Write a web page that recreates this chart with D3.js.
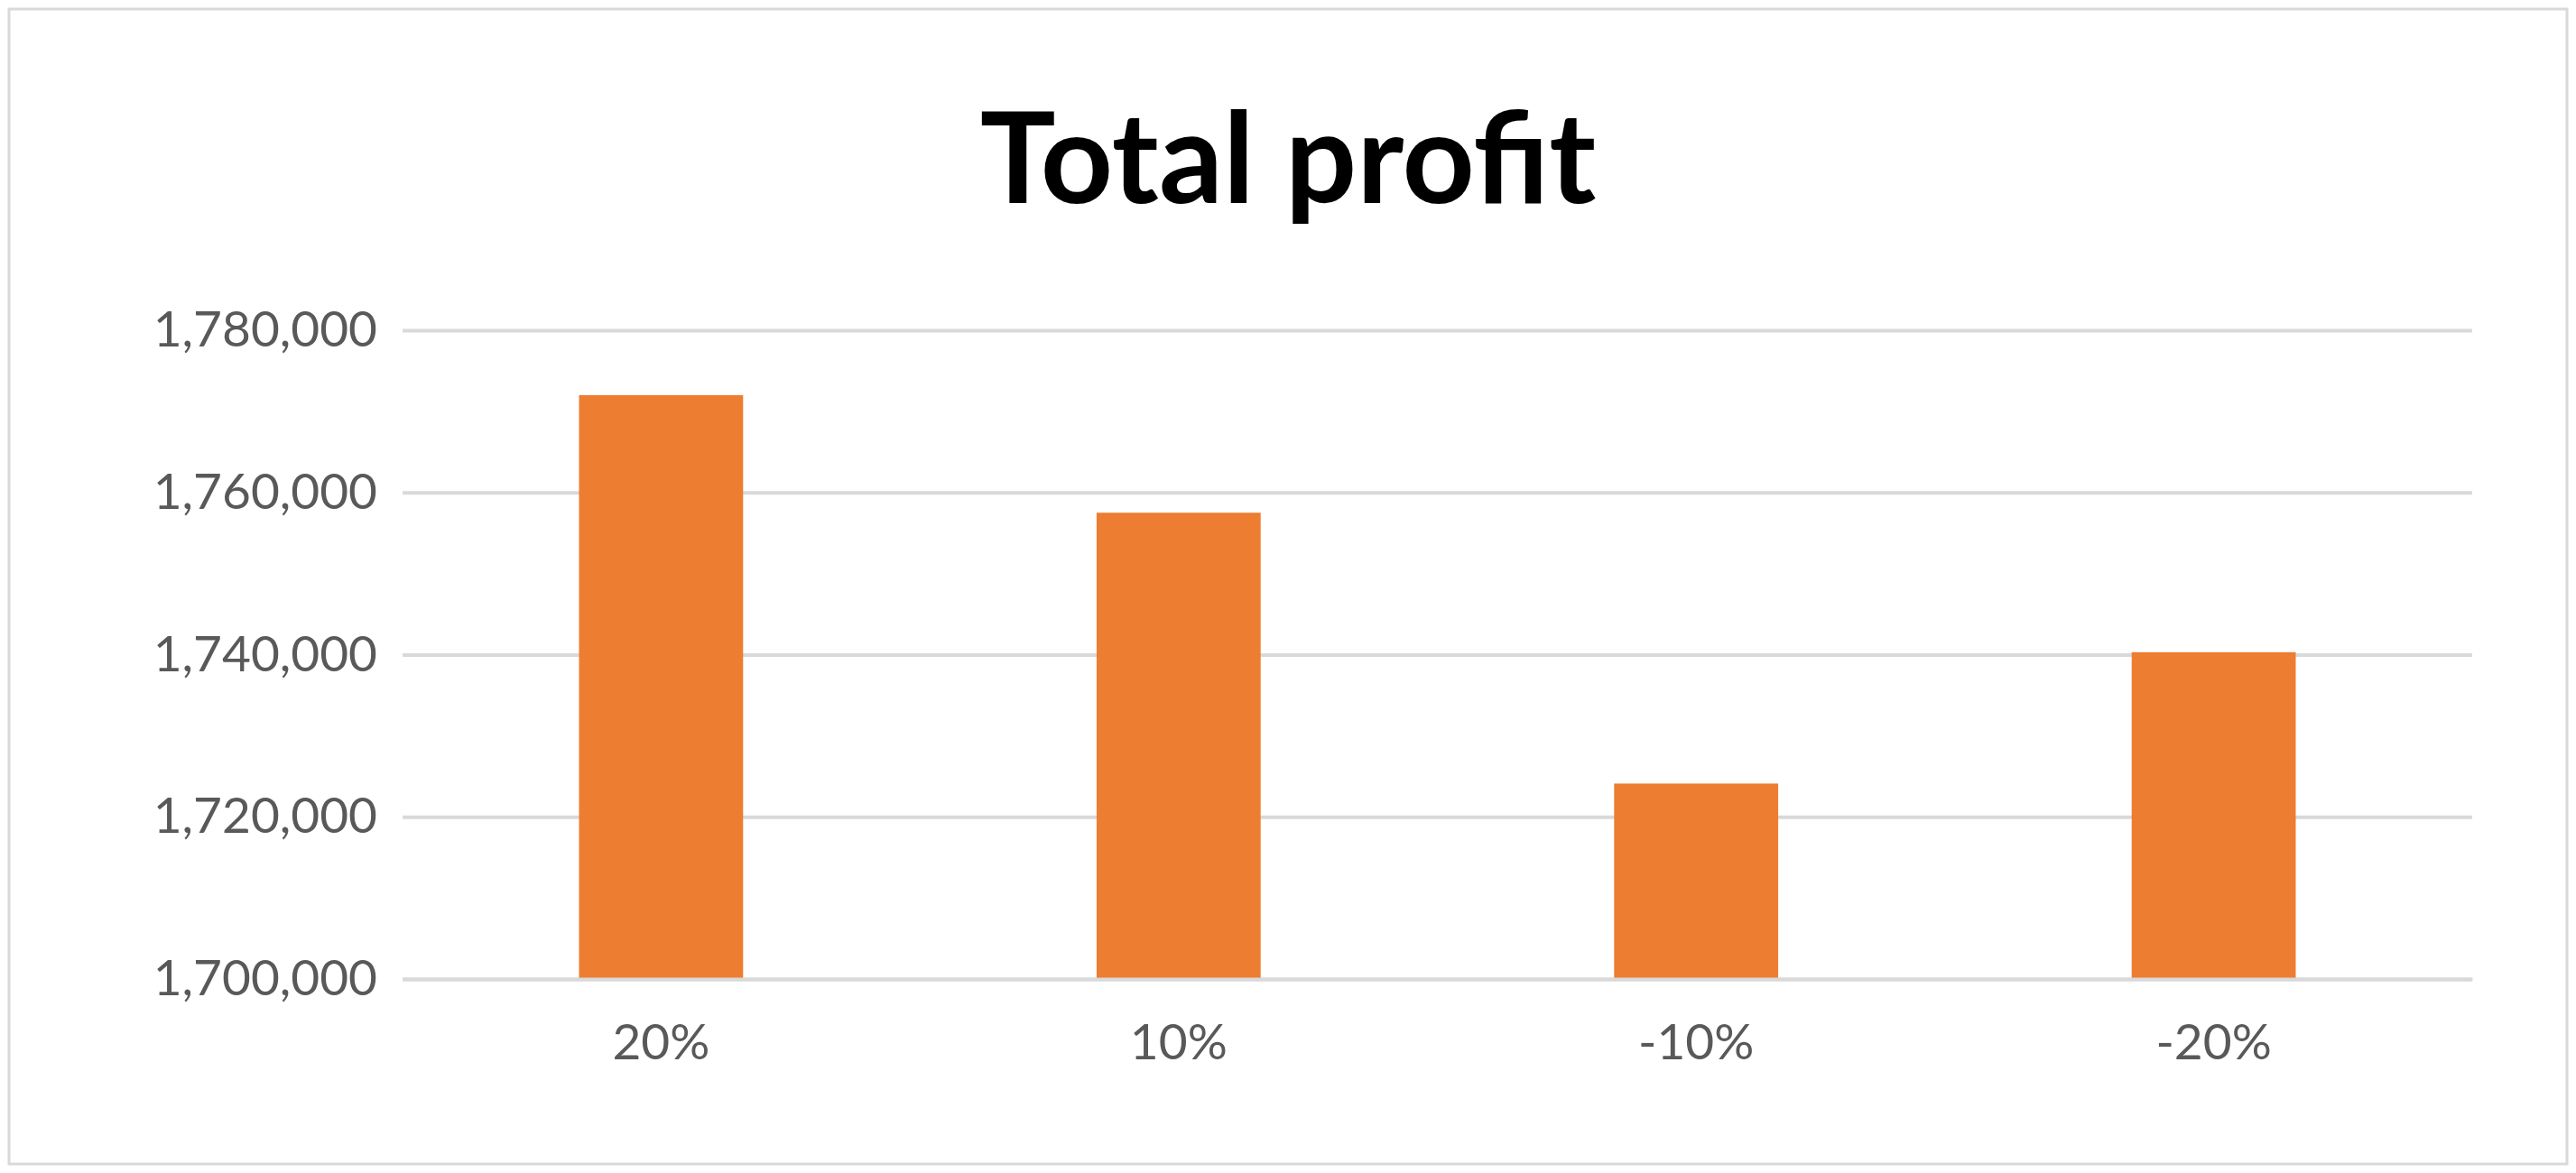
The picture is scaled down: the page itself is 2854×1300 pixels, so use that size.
<!DOCTYPE html>
<html><head><meta charset="utf-8">
<script src="https://cdn.jsdelivr.net/npm/d3@7"></script>
<style>body{margin:0;background:#fff}</style></head>
<body><svg id="c" width="2854" height="1300"></svg>
<script>
const categories = ["20%", "10%", "-10%", "-20%"];
const values = [1772000, 1757500, 1724100, 1740300];
const yTicks = [1700000, 1720000, 1740000, 1760000, 1780000];
const title = "Total profit";

const svg = d3.select("#c");
const W = 2854, H = 1300;
const m = {l: 446, r: 2739, t: 366, b: 1085};
svg.append("rect").attr("x", 10).attr("y", 10).attr("width", W - 20).attr("height", H - 20)
  .attr("fill", "#fff").attr("stroke", "#d9d9d9").attr("stroke-width", 3);

const x = d3.scaleBand().domain(categories).range([m.l, m.r]).paddingInner(0.683).paddingOuter(0.341);
const y = d3.scaleLinear().domain([1700000, 1780000]).range([m.b, m.t]);
const font = "Lato, 'Open Sans', sans-serif";

const ya = svg.append("g").attr("transform", `translate(${m.l},0)`)
  .call(d3.axisLeft(y).tickValues(yTicks).tickSize(-(m.r - m.l)).tickPadding(28).tickFormat(d3.format(",")));
ya.select(".domain").remove();
ya.selectAll("line").attr("stroke", "#d9d9d9").attr("stroke-width", 4);
ya.selectAll("text").attr("font-family", font).attr("font-size", 55).attr("fill", "#595959");

svg.selectAll(".bar").data(values).join("rect")
  .attr("x", (d, i) => x(categories[i])).attr("width", x.bandwidth())
  .attr("y", d => y(d)).attr("height", d => y(1700000) - y(d)).attr("fill", "#ed7d31");

const xa = svg.append("g").attr("transform", `translate(0,${m.b})`)
  .call(d3.axisBottom(x).tickSize(0).tickPadding(50));
xa.select(".domain").attr("stroke", "#d9d9d9").attr("stroke-width", 4);
xa.selectAll("text").attr("font-family", font).attr("font-size", 55).attr("fill", "#595959");

svg.append("text").attr("x", 1427).attr("y", 225).attr("text-anchor", "middle")
  .attr("font-family", font).attr("font-weight", "bold").attr("font-size", 140).attr("fill", "#000").text(title);
</script></body></html>
